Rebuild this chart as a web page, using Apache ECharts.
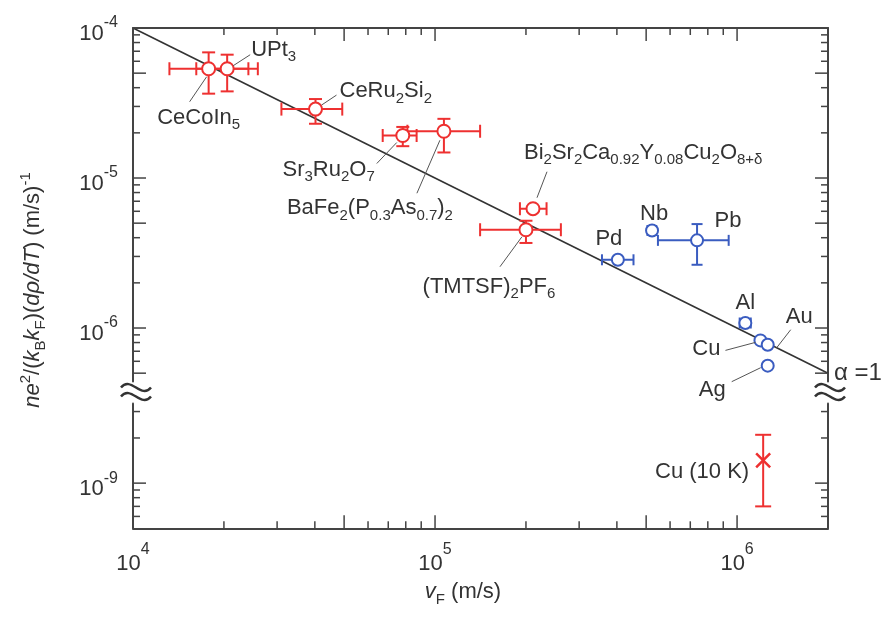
<!DOCTYPE html>
<html>
<head>
<meta charset="utf-8">
<script src="https://cdn.jsdelivr.net/npm/echarts@6/dist/echarts.min.js"></script>
<style>html,body{margin:0;padding:0;background:#fff}#c{width:892px;height:618px}</style>
</head>
<body>
<div id="c"></div>
<script>
// ---------------- data ----------------
const redNames = ['CeCoIn{s|5}', 'UPt{s|3}', 'CeRu{s|2}Si{s|2}', 'Sr{s|3}Ru{s|2}O{s|7}',
  'BaFe{s|2}(P{s|0.3}As{s|0.7}){s|2}', 'Bi{s|2}Sr{s|2}Ca{s|0.92}Y{s|0.08}Cu{s|2}O{s|8+δ}', '(TMTSF){s|2}PF{s|6}'];
const redVF     = [1.78e4, 2.05e4, 4.02e4, 7.82e4, 1.07e5, 2.11e5, 2.00e5];
const redVFLow  = [1.32e4, 1.62e4, 3.10e4, 6.71e4, 8.1e4, 1.91e5, 1.41e5];
const redVFHigh = [2.41e4, 2.59e4, 4.93e4, 8.69e4, 1.41e5, 2.34e5, 2.61e5];
const redY      = [5.35e-5, 5.35e-5, 2.88e-5, 1.92e-5, 2.05e-5, 6.24e-6, 4.52e-6];
const redYLow   = [3.65e-5, 3.78e-5, 2.30e-5, 1.63e-5, 1.48e-5, 6.24e-6, 3.69e-6];
const redYHigh  = [6.88e-5, 6.64e-5, 3.36e-5, 2.19e-5, 2.48e-5, 6.24e-6, 5.19e-6];

const blueNames = ['Pd', 'Nb', 'Pb', 'Al', 'Cu', 'Au', 'Ag'];
const blueVF     = [4.03e5, 5.23e5, 7.37e5, 1.065e6, 1.195e6, 1.263e6, 1.263e6];
const blueVFLow  = [3.57e5, 5.05e5, 5.47e5, 1.02e6, 1.195e6, 1.24e6, 1.263e6];
const blueVFHigh = [4.54e5, 5.40e5, 9.38e5, 1.11e6, 1.195e6, 1.29e6, 1.263e6];
const blueY      = [2.85e-6, 4.47e-6, 3.84e-6, 1.08e-6, 8.27e-7, 7.74e-7, 5.61e-7];
const blueYLow   = [2.85e-6, 4.30e-6, 2.64e-6, 1.03e-6, 7.95e-7, 7.45e-7, 5.40e-7];
const blueYHigh  = [2.85e-6, 4.65e-6, 4.93e-6, 1.13e-6, 8.60e-7, 8.05e-7, 5.85e-7];

const cu10Names = ['Cu (10 K)'];
const cu10VF    = [1.22e6];
const cu10Y     = [1.417e-9];
const cu10YLow  = [7.0e-10];
const cu10YHigh = [2.10e-9];

const alphaLine = [[1e4, 1e-4], [2e6, 5e-7]];
const alphaLabel = 'α =1';

const xRange = [1e4, 2e6];
const yTopRange = [4.4e-7, 1e-4];
const yBotRange = [5e-10, 3.4e-9];
const xDecades = [1e4, 1e5, 1e6];
const yTopDecades = [1e-7, 1e-6, 1e-5, 1e-4];
const yBotDecades = [1e-10, 1e-9];
const xTickLabels = ['{m|10}{p|4}', '{m|10}{p|5}', '{m|10}{p|6}'];
const xTickLabelValues = [1e4, 1e5, 1e6];
const yTopTickLabels = ['{m|10}{p|-6}', '{m|10}{p|-5}', '{m|10}{p|-4}'];
const yTopTickLabelValues = [1e-6, 1e-5, 1e-4];
const yBotTickLabels = ['{m|10}{p|-9}'];
const yBotTickLabelValues = [1e-9];

const yTitle = '{i|ne}{sup|2}/({i|k}{sub|B}{i|k}{sub|F})({i|dρ/dT}) (m/s){sup|-1}';
const xTitle = '{i|v}{sub|F} (m/s)';

// ---------------- layout / style (not data) ----------------
const FF = "'Liberation Sans', Arial, Helvetica, sans-serif";
const TXT = '#333333';
const AX = '#444444';
const RED = '#ee3030';
const BLUE = '#3a5cc0';
function fnt(size, st) { return (st ? st + ' ' : '') + size + 'px ' + FF; }
function rs(size, extra) {
  return Object.assign({ font: fnt(size), fontSize: size, fontFamily: FF, fill: TXT }, extra || {});
}
function rsi(size, extra) {
  return Object.assign({ font: fnt(size, 'italic'), fontSize: size, fontFamily: FF, fontStyle: 'italic', fill: TXT }, extra || {});
}
const ANN_RICH = { s: rs(15, { lineHeight: 14, verticalAlign: 'bottom' }) };
const XTICK_RICH = {
  m: rs(22, { lineHeight: 34, verticalAlign: 'bottom' }),
  p: rs(16, { lineHeight: 16, verticalAlign: 'top' })
};
const YTICK_RICH = {
  m: rs(22, { lineHeight: 34, verticalAlign: 'bottom' }),
  p: rs(16, { lineHeight: 16, verticalAlign: 'top', padding: [4, 0, 0, 0] })
};
const TITLE_RICH = {
  i: rsi(22, { lineHeight: 30 }),
  sup: rs(15, { lineHeight: 14, verticalAlign: 'top' }),
  sub: rs(15, { lineHeight: 14, verticalAlign: 'bottom' })
};

// label placement relative to each point (pixels)
const redLabelLayout = [
  { dx: -10, dy: 49, align: 'center', lead: [[-2, 8], [-19, 33]] },
  { dx: 24, dy: -19, align: 'left', lead: [[6, -3], [23, -14]] },
  { dx: 24, dy: -18, align: 'left', lead: [[6, -4], [21, -14]] },
  { dx: -28, dy: 34, align: 'right', lead: [[-6, 7], [-26, 28]] },
  { dx: 9, dy: 77, align: 'right', lead: [[-4, 9], [-27, 62]] },
  { dx: -9, dy: -56, align: 'left', lead: [[4, -11], [14, -37]] },
  { dx: -37, dy: 57, align: 'center', lead: [[-4, 7], [-26, 37]] }
];
const blueLabelLayout = [
  { dx: -9, dy: -21, align: 'center' },
  { dx: 2, dy: -17, align: 'center' },
  { dx: 31, dy: -19, align: 'center' },
  { dx: 0, dy: -20, align: 'center' },
  { dx: -40, dy: 9, align: 'right', lead: [[-5, 2], [-35, 10]] },
  { dx: 18, dy: -28, align: 'left', lead: [[9, 3], [23, -15]] },
  { dx: -42, dy: 24, align: 'right', lead: [[-7, 2], [-36, 16]] }
];
const cu10LabelLayout = [{ dx: -14, dy: 12, align: 'right' }];

// ---------------- helpers ----------------
function tickList(decades, range) {
  const lo = range[0], hi = range[1], out = [];
  decades.forEach(function (d) {
    for (let m = 1; m <= 9; m++) {
      const v = m * d;
      if (v < lo * 0.999 || v > hi * 1.001) continue;
      const edge = Math.abs(Math.log10(v / lo)) < 1e-3 || Math.abs(Math.log10(v / hi)) < 1e-3;
      if (edge && m !== 1) continue;
      out.push([v, m === 1 ? 2 : (m === 5 ? 1 : 0)]);
    }
  });
  return out;
}
function labelFor(v, values, labels) {
  for (let i = 0; i < values.length; i++) if (Math.abs(Math.log10(v / values[i])) < 1e-6) return labels[i];
  return null;
}
const tickStyle = { stroke: AX, lineWidth: 1.5 };

function yTickRender(values, labels) {
  return function (params, api) {
    const v = api.value(1), kind = api.value(2);
    const L = api.coord([xRange[0], v]), R = api.coord([xRange[1], v]);
    const len = kind > 0 ? 13 : 7;
    const ch = [
      { type: 'line', shape: { x1: L[0], y1: L[1], x2: L[0] + len, y2: L[1] }, style: tickStyle },
      { type: 'line', shape: { x1: R[0], y1: R[1], x2: R[0] - len, y2: R[1] }, style: tickStyle }
    ];
    const lab = kind === 2 ? labelFor(v, values, labels) : null;
    if (lab) ch.push({ type: 'text', x: L[0] - 15, y: L[1],
      style: { text: lab, align: 'right', verticalAlign: 'middle', rich: YTICK_RICH, font: fnt(22), fill: TXT } });
    return { type: 'group', children: ch };
  };
}
function xTickRender(yVal, dir, values, labels) {
  return function (params, api) {
    const v = api.value(0), kind = api.value(2);
    const P = api.coord([v, yVal]);
    const len = kind > 0 ? 13 : 7;
    const ch = [{ type: 'line', shape: { x1: P[0], y1: P[1], x2: P[0], y2: P[1] + dir * len }, style: tickStyle }];
    const lab = (kind === 2 && values) ? labelFor(v, values, labels) : null;
    if (lab) ch.push({ type: 'text', x: P[0], y: P[1] + 13,
      style: { text: lab, align: 'center', verticalAlign: 'top', rich: XTICK_RICH, font: fnt(22), fill: TXT } });
    return { type: 'group', children: ch };
  };
}
function errRender(color, cap) {
  return function (params, api) {
    const x = api.value(0), y = api.value(1);
    const xl = api.value(2), xh = api.value(3), yl = api.value(4), yh = api.value(5);
    const c = api.coord([x, y]);
    const st = { stroke: color, lineWidth: 2 };
    const ch = [];
    if (xh > xl) {
      const a = api.coord([xl, y])[0], b = api.coord([xh, y])[0];
      ch.push({ type: 'line', shape: { x1: a, y1: c[1], x2: b, y2: c[1] }, style: st });
      ch.push({ type: 'line', shape: { x1: a, y1: c[1] - cap, x2: a, y2: c[1] + cap }, style: st });
      ch.push({ type: 'line', shape: { x1: b, y1: c[1] - cap, x2: b, y2: c[1] + cap }, style: st });
    }
    if (yh > yl) {
      const a = api.coord([x, yl])[1], b = api.coord([x, yh])[1];
      ch.push({ type: 'line', shape: { x1: c[0], y1: a, x2: c[0], y2: b }, style: st });
      ch.push({ type: 'line', shape: { x1: c[0] - cap, y1: a, x2: c[0] + cap, y2: a }, style: st });
      ch.push({ type: 'line', shape: { x1: c[0] - cap, y1: b, x2: c[0] + cap, y2: b }, style: st });
    }
    return { type: 'group', children: ch };
  };
}
function annRender(names, layout) {
  return function (params, api) {
    const i = params.dataIndex;
    const p = api.coord([api.value(0), api.value(1)]);
    const L = layout[i];
    const ch = [];
    if (L.lead) ch.push({ type: 'line', shape: { x1: p[0] + L.lead[0][0], y1: p[1] + L.lead[0][1],
      x2: p[0] + L.lead[1][0], y2: p[1] + L.lead[1][1] }, style: { stroke: '#555', lineWidth: 1 } });
    ch.push({ type: 'text', x: p[0] + L.dx, y: p[1] + L.dy,
      style: { text: names[i], align: L.align, verticalAlign: 'middle', font: fnt(22), fontSize: 22,
        fontFamily: FF, fill: TXT, lineHeight: 30, rich: ANN_RICH } });
    return { type: 'group', children: ch };
  };
}
function zip6(a, b, c, d, e, f) { return a.map(function (v, i) { return [v, b[i], c[i], d[i], e[i], f[i]]; }); }
function zip2(a, b) { return a.map(function (v, i) { return [v, b[i]]; }); }

const axLine = { show: true, onZero: false, lineStyle: { color: AX, width: 2 } };
function logAxis(grid, pos, range) {
  return { type: 'log', logBase: 10, gridIndex: grid, position: pos, min: range[0], max: range[1],
    axisLine: axLine, axisTick: { show: false }, axisLabel: { show: false }, splitLine: { show: false } };
}

const G0 = { xAxisIndex: 0, yAxisIndex: 0 };
const G1 = { xAxisIndex: 1, yAxisIndex: 2 };
const customBase = { type: 'custom', silent: true, encode: { x: 0, y: 1 } };

const option = {
  animation: false,
  backgroundColor: '#fff',
  grid: [
    { left: 133, right: 64, top: 28, height: 353.5, outerBoundsMode: 'none' },
    { left: 133, right: 64, top: 403.4, height: 124.9, outerBoundsMode: 'none' }
  ],
  xAxis: [logAxis(0, 'top', xRange), logAxis(1, 'bottom', xRange)],
  yAxis: [logAxis(0, 'left', yTopRange), logAxis(0, 'right', yTopRange),
          logAxis(1, 'left', yBotRange), logAxis(1, 'right', yBotRange)],
  series: [
    Object.assign({ type: 'line', data: alphaLine, symbol: 'none', z: 1, silent: true,
      lineStyle: { color: '#333', width: 1.6 },
      endLabel: { show: true, formatter: alphaLabel, fontSize: 24, fontFamily: FF, color: TXT, distance: 6 } }, G0),
    Object.assign({}, customBase, G0, { z: 2, renderItem: errRender(RED, 6.5),
      data: zip6(redVF, redY, redVFLow, redVFHigh, redYLow, redYHigh) }),
    Object.assign({}, customBase, G0, { z: 2, renderItem: errRender(BLUE, 5.5),
      data: zip6(blueVF, blueY, blueVFLow, blueVFHigh, blueYLow, blueYHigh) }),
    Object.assign({ type: 'scatter', z: 3, silent: true, symbol: 'circle', symbolSize: 13,
      itemStyle: { color: '#fff', borderColor: RED, borderWidth: 2, opacity: 1 },
      data: zip2(redVF, redY) }, G0),
    Object.assign({ type: 'scatter', z: 3, silent: true, symbol: 'circle', symbolSize: 12,
      itemStyle: { color: '#fff', borderColor: BLUE, borderWidth: 2, opacity: 1 },
      data: zip2(blueVF, blueY) }, G0),
    Object.assign({}, customBase, G1, { z: 2, renderItem: errRender(RED, 8),
      data: zip6(cu10VF, cu10Y, cu10VF, cu10VF, cu10YLow, cu10YHigh) }),
    Object.assign({ type: 'scatter', z: 3, silent: true, symbol: 'path://M0,0L10,10M10,0L0,10', symbolSize: 14,
      itemStyle: { color: 'rgba(0,0,0,0)', borderColor: RED, borderWidth: 2.5, opacity: 1 },
      data: zip2(cu10VF, cu10Y) }, G1),
    Object.assign({}, customBase, G0, { z: 4, renderItem: annRender(redNames, redLabelLayout), data: zip2(redVF, redY) }),
    Object.assign({}, customBase, G0, { z: 4, renderItem: annRender(blueNames, blueLabelLayout), data: zip2(blueVF, blueY) }),
    Object.assign({}, customBase, G1, { z: 4, renderItem: annRender(cu10Names, cu10LabelLayout), data: zip2(cu10VF, cu10Y) }),
    Object.assign({}, customBase, G0, { z: 5, renderItem: yTickRender(yTopTickLabelValues, yTopTickLabels),
      data: tickList(yTopDecades, yTopRange).map(function (t) { return [xRange[0], t[0], t[1]]; }) }),
    Object.assign({}, customBase, G1, { z: 5, renderItem: yTickRender(yBotTickLabelValues, yBotTickLabels),
      data: tickList(yBotDecades, yBotRange).map(function (t) { return [xRange[0], t[0], t[1]]; }) }),
    Object.assign({}, customBase, G0, { z: 5, renderItem: xTickRender(yTopRange[1], 1, null, null),
      data: tickList(xDecades, xRange).map(function (t) { return [t[0], yTopRange[1], t[1]]; }) }),
    Object.assign({}, customBase, G1, { z: 5, renderItem: xTickRender(yBotRange[0], -1, xTickLabelValues, xTickLabels),
      data: tickList(xDecades, xRange).map(function (t) { return [t[0], yBotRange[0], t[1]]; }) })
  ],
  graphic: [
    { type: 'text', x: 33, y: 290, rotation: Math.PI / 2, z: 10,
      style: { text: yTitle, align: 'center', verticalAlign: 'middle', font: fnt(22), fontSize: 22, fontFamily: FF,
        fill: TXT, lineHeight: 30, rich: TITLE_RICH } },
    { type: 'text', x: 463, y: 592, z: 10,
      style: { text: xTitle, align: 'center', verticalAlign: 'middle', font: fnt(22), fontSize: 22, fontFamily: FF,
        fill: TXT, lineHeight: 30, rich: TITLE_RICH } }
  ].concat([[136, 392], [830, 392]].map(function (c) {
    return { type: 'group', x: c[0], y: c[1], z: 10, children: [-4.5, 4.5].map(function (o) {
      return { type: 'bezierCurve', shape: { x1: -15, y1: o, cpx1: -5, cpy1: o - 12, cpx2: 5, cpy2: o + 12, x2: 15, y2: o },
        style: { stroke: '#333', lineWidth: 2.5, fill: null } };
    }) };
  }))
};

const chart = echarts.init(document.getElementById('c'), null, { renderer: 'canvas' });
chart.setOption(option);
</script>
</body>
</html>
